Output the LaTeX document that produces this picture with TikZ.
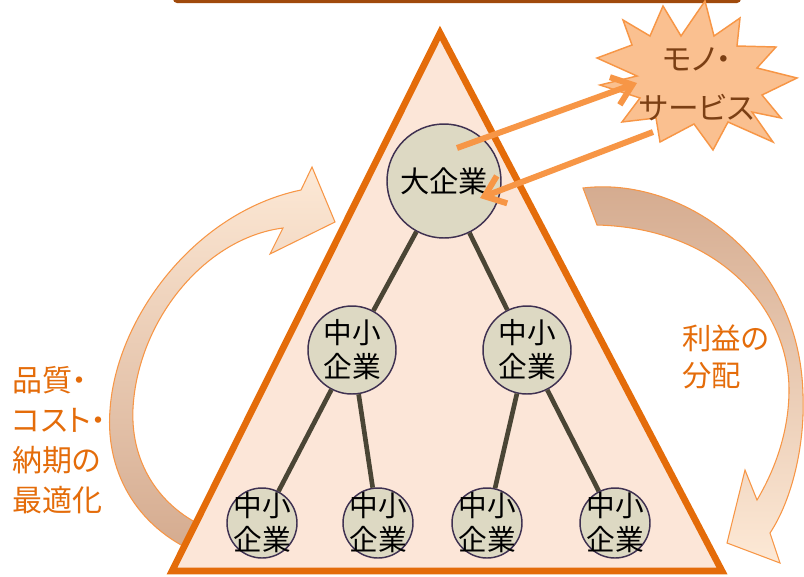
\documentclass[tikz,border=0pt]{standalone}
\usepackage{fontspec}
\setmainfont{Noto Sans CJK JP}
\newfontfamily\jpschmal[RawFeature=+palt]{Noto Sans CJK JP}
\usetikzlibrary{arrows.meta}

\definecolor{dreieck}{HTML}{E46C0A}
\definecolor{dreieckfill}{HTML}{FCE6D8}
\definecolor{pfeil}{HTML}{F79646}
\definecolor{sternfill}{HTML}{FAC090}
\definecolor{knoten}{HTML}{DDD9C3}
\definecolor{rand}{HTML}{3F3151}
\definecolor{astfarbe}{HTML}{4A4535}
\definecolor{balken}{HTML}{A04A0C}
\definecolor{sterntext}{HTML}{7B3F14}
\definecolor{hell}{HTML}{FDE9D6}
\definecolor{dunkel}{HTML}{D4AA8E}

\begin{document}
\begin{tikzpicture}[x=0.75pt,y=-0.75pt,
  firma/.style={circle,draw=rand,line width=1.1pt,fill=knoten,inner sep=0pt},
  kmu/.style={align=center,font=\fontsize{21.5}{25.5}\selectfont},
  ast/.style={draw=astfarbe,line width=3.5pt},
  fluss/.style={draw=pfeil,line width=4.5pt,-{Straight Barb[length=14pt,width=22pt]}},
  beschriftung/.style={text=dreieck,align=left,anchor=west,inner sep=0pt}]

\useasboundingbox (0,0) rectangle (804,576);
\clip (0,0) rectangle (804,576);

% Balken oben
\fill[balken,rounded corners=3pt] (173,-20) rectangle (741,3);

% Bogenpfeil links
\shade[top color=hell,bottom color=dunkel,draw=pfeil,line width=0.8pt]
  (205,556) .. controls (140,532) and (105,475) .. (110,410)
  .. controls (116,318) and (195,212) .. (301,190)
  -- (312,167) -- (335,222) -- (270,254) -- (283,228)
  .. controls (205,238) and (138,320) .. (133,408)
  .. controls (130,468) and (165,512) .. (212,530) -- cycle;

% Bogenpfeil rechts
\shade[top color=dunkel,bottom color=hell,draw=pfeil,line width=0.8pt]
  (583,188) .. controls (680,176) and (800,255) .. (803,395)
  .. controls (805,445) and (792,500) .. (770,533)
  -- (780,563) -- (727,543) -- (745,470) -- (757,500)
  .. controls (776,468) and (789,430) .. (789,390)
  .. controls (789,310) and (720,228) .. (597,225) -- cycle;

% Dreieck
\draw[dreieck,line width=5pt,fill=dreieckfill] (440,33) -- (722,571) -- (172,571) -- cycle;

% Knoten
\node[firma,minimum size=85.5pt,font=\fontsize{22}{25}\selectfont] (gross) at (444,181) {大企業};
\node[firma,minimum size=66pt,label={[kmu]center:{中小\\企業}}] (ml) at (352,350) {};
\node[firma,minimum size=66pt,label={[kmu]center:{中小\\企業}}] (mr) at (527,350) {};
\node[firma,minimum size=52.5pt,label={[kmu]center:{中小\\企業}}] (u1) at (262,523) {};
\node[firma,minimum size=52.5pt,label={[kmu]center:{中小\\企業}}] (u2) at (378,523) {};
\node[firma,minimum size=52.5pt,label={[kmu]center:{中小\\企業}}] (u3) at (487,523) {};
\node[firma,minimum size=52.5pt,label={[kmu]center:{中小\\企業}}] (u4) at (615,523) {};

% Aeste
\draw[ast] (gross) -- (ml);
\draw[ast] (gross) -- (mr);
\draw[ast] (ml) -- (u1);
\draw[ast] (ml) -- (u2);
\draw[ast] (mr) -- (u3);
\draw[ast] (mr) -- (u4);

% Stern
\filldraw[fill=sternfill,draw=pfeil,line width=1.1pt]
  (623,20) -- (650,36) -- (663,6) -- (681,36) -- (705,1) -- (714,36)
  -- (740,18) -- (737,46) -- (776,47) -- (757,68) -- (797,78) -- (762,95)
  -- (781,118) -- (752,112) -- (773,142) -- (728,122) -- (713,150)
  -- (694,124) -- (660,142) -- (656,118) -- (622,122) -- (640,98)
  -- (600,85) -- (637,76) -- (597,58) -- (632,45) -- cycle;
\node[font=\jpschmal\fontsize{23}{37}\selectfont,text=sterntext,align=center] (mono) at (697,84) {モノ・\\サービス};

% Pfeile
\coordinate (a1) at (457,148);
\coordinate (e1) at (637,83);
\coordinate (a2) at (653,132);
\coordinate (e2) at (480,198);
\draw[fluss] (a1) -- (e1);
\draw[fluss] (a2) -- (e2);

% Beschriftung
\node[beschriftung,font=\jpschmal\fontsize{22.5}{30}\selectfont] (links) at (12,440) {品質・\\コスト・\\納期の\\最適化};
\node[beschriftung,font=\jpschmal\fontsize{22}{28}\selectfont] (rechts) at (682,357) {利益の\\分配};

\end{tikzpicture}
\end{document}
